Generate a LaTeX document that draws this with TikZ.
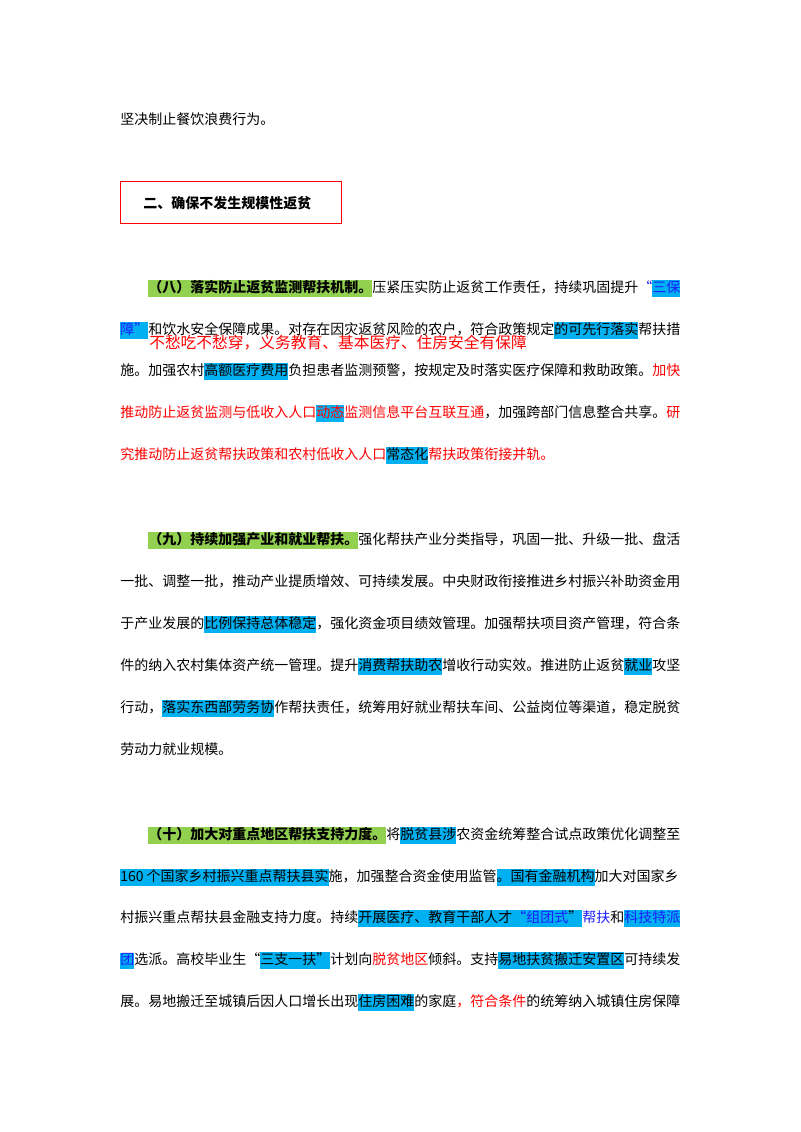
\documentclass[tikz,border=0pt]{standalone}
\usepackage{fontspec}
\setmainfont{Noto Sans CJK SC}
\definecolor{hg}{RGB}{146,208,80}
\definecolor{hb}{RGB}{0,176,240}
\definecolor{rd}{RGB}{255,0,0}
\definecolor{bl}{RGB}{30,30,255}
\newcommand\hlg[1]{{\setlength\fboxsep{0pt}\colorbox{hg}{\strut #1}}}
\newcommand\hlb[1]{{\setlength\fboxsep{0pt}\colorbox{hb}{\strut #1}}}
\newcommand\rd[1]{{\color{rd}#1}}
\newcommand\bl[1]{{\color{bl}#1}}
\newcommand\fl[1]{#1}
\newcommand\il[1]{#1}
\begin{document}
\begin{tikzpicture}[x=0.75pt,y=-0.75pt,
  ln/.style={anchor=base west,inner sep=0pt,font=\fontsize{10.5pt}{12pt}\selectfont}]
\useasboundingbox (0,0) rectangle (800,1132);
\node[ln] (a1) at (120,124) {坚决制止餐饮浪费行为。};
\node[draw=rd,line width=0.8pt,minimum width=166pt,minimum height=31.5pt,inner sep=0pt,anchor=north west] (box) at (120,181) {};
\node[ln,font=\fontsize{10.5pt}{12pt}\selectfont\bfseries] (bt) at (143,208) {二、确保不发生规模性返贫};
% (八)
\node[ln] (b1) at (148,292) {\il{\hlg{\textbf{（八）落实防止返贫监测帮扶机制。}}压紧压实防止返贫工作责任，持续巩固提升\bl{“}\hlb{\bl{三保}}}};
\node[ln] (b2) at (120,334) {\fl{\hlb{\bl{障”}}和饮水安全保障成果。对存在因灾返贫风险的农户，符合政策规定\hlb{的可先行落实}帮扶措}};
\node[ln,font=\fontsize{11.8pt}{14pt}\selectfont,text=rd] (ov) at (149,348) {不愁吃不愁穿，义务教育、基本医疗、住房安全有保障};
\node[ln] (b3) at (120,375) {\fl{施。加强农村\hlb{高额医疗费用}负担患者监测预警，按规定及时落实医疗保障和救助政策。\rd{加快}}};
\node[ln] (b4) at (120,417) {\fl{\rd{推动防止返贫监测与低收入人口}\hlb{\rd{动态}}\rd{监测信息平台互联互通}，加强跨部门信息整合共享。\rd{研}}};
\node[ln] (b5) at (120,459) {\rd{究推动防止返贫帮扶政策和农村低收入人口}\hlb{常态化}\rd{帮扶政策衔接并轨。}};
% (九)
\node[ln] (c1) at (148,544) {\il{\hlg{\textbf{（九）持续加强产业和就业帮扶。}}强化帮扶产业分类指导，巩固一批、升级一批、盘活}};
\node[ln] (c2) at (120,586) {\fl{一批、调整一批，推动产业提质增效、可持续发展。中央财政衔接推进乡村振兴补助资金用}};
\node[ln] (c3) at (120,628) {\fl{于产业发展的\hlb{比例保持总体稳定}，强化资金项目绩效管理。加强帮扶项目资产管理，符合条}};
\node[ln] (c4) at (120,670) {\fl{件的纳入农村集体资产统一管理。提升\hlb{消费帮扶助农}增收行动实效。推进防止返贫\hlb{就业}攻坚}};
\node[ln] (c5) at (120,712) {\fl{行动，\hlb{落实东西部劳务协}作帮扶责任，统筹用好就业帮扶车间、公益岗位等渠道，稳定脱贫}};
\node[ln] (c6) at (120,754) {劳动力就业规模。};
% (十)
\node[ln] (d1) at (148,839) {\il{\hlg{\textbf{（十）加大对重点地区帮扶支持力度。}}将\hlb{脱贫县涉}农资金统筹整合试点政策优化调整至}};
\node[ln] (d2) at (120,881) {\fl{\hlb{160 个国家乡村振兴重点帮扶县实}施，加强整合资金使用监管\hlb{。国有金融机构}加大对国家乡}};
\node[ln] (d3) at (120,922) {\fl{村振兴重点帮扶县金融支持力度。持续\hlb{开展医疗、教育干部人才\bl{“组团式}”}\bl{帮扶}和\hlb{\bl{科技特派}}}};
\node[ln] (d4) at (120,964) {\fl{\hlb{\bl{团}}选派。高校毕业生“\hlb{三支一扶”}计划向\rd{脱贫地区}倾斜。支持\hlb{易地扶贫搬迁安置区}可持续发}};
\node[ln] (d5) at (120,1006) {\fl{展。易地搬迁至城镇后因人口增长出现\hlb{住房困难}的家庭\rd{，符合条件}的统筹纳入城镇住房保障}};
\end{tikzpicture}
\end{document}
